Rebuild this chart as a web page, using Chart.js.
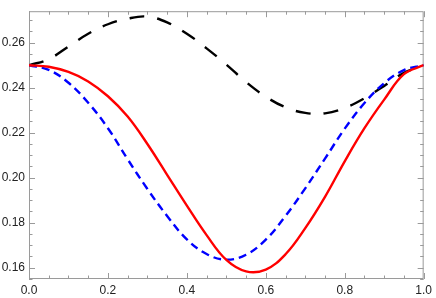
<!DOCTYPE html>
<html>
<head>
<meta charset="utf-8">
<script src="https://cdn.jsdelivr.net/npm/chart.js@4/dist/chart.umd.min.js"></script>
<style>
  html, body { margin: 0; padding: 0; background: #fff; }
  #plot { display: block; }
</style>
</head>
<body>
<canvas id="plot" width="436" height="298"></canvas>
<script>
// x positions shared by all three curves
const xs = [0, 0.05, 0.1, 0.15, 0.2, 0.25, 0.3, 0.35, 0.4, 0.45, 0.5,
            0.55, 0.6, 0.65, 0.7, 0.75, 0.8, 0.85, 0.9, 0.95, 1.0];

// solid red curve
const redVals = [0.250, 0.2493, 0.2470, 0.2428, 0.2362, 0.2272, 0.2150, 0.2013, 0.1876, 0.1745, 0.1635,
                 0.1584, 0.1592, 0.1660, 0.1776, 0.1915, 0.2073, 0.2220, 0.2347, 0.2460, 0.250];

// short-dashed blue curve
const blueVals = [0.250, 0.2479, 0.2422, 0.2333, 0.2220, 0.2082, 0.1950, 0.1830, 0.1726, 0.1661, 0.1636,
                  0.1658, 0.1725, 0.1830, 0.1953, 0.2085, 0.2218, 0.2332, 0.2420, 0.2478, 0.250];

// long-dashed black curve
const blackVals = [0.250, 0.2527, 0.2583, 0.2640, 0.2682, 0.2707, 0.2716, 0.2690, 0.2640, 0.2575, 0.2503,
                   0.2425, 0.2360, 0.2313, 0.2288, 0.2286, 0.2310, 0.2353, 0.2408, 0.2466, 0.250];

const xTicks = [0, 0.2, 0.4, 0.6, 0.8, 1.0];
const yTicks = [0.16, 0.18, 0.20, 0.22, 0.24, 0.26];

function pairs(vals) {
    return xs.map((x, i) => ({ x: x, y: vals[i] }));
}

// Mathematica-like frame with inward ticks on all four sides
const framePlugin = {
    id: "frame",
    beforeDatasetsDraw(chart) {
        const ctx = chart.ctx;
        const a = chart.chartArea;
        const xs_ = chart.scales.x;
        const ys_ = chart.scales.y;
        ctx.save();
        ctx.strokeStyle = "#9a9a9a";
        ctx.lineWidth = 1;
        ctx.strokeRect(a.left + 0.5, a.top + 0.5, a.right - a.left - 1, a.bottom - a.top - 1);

        ctx.beginPath();
        // x ticks, every 0.05, major every 0.2
        for (let i = 0; i <= 20; i++) {
            const v = i * 0.05;
            const px = Math.round(xs_.getPixelForValue(v)) + 0.5;
            const len = (i % 4 === 0) ? 6 : 3.5;
            ctx.moveTo(px, a.bottom);
            ctx.lineTo(px, a.bottom - len);
            ctx.moveTo(px, a.top);
            ctx.lineTo(px, a.top + len);
        }
        // y ticks, every 0.005, major every 0.02
        for (let i = 0; i <= 24; i++) {
            const v = 0.155 + i * 0.005;
            if (v > ys_.max) break;
            const py = Math.round(ys_.getPixelForValue(v)) + 0.5;
            const major = Math.abs(((v - 0.16) / 0.02) - Math.round((v - 0.16) / 0.02)) < 1e-6;
            const len = major ? 6 : 3.5;
            ctx.moveTo(a.left, py);
            ctx.lineTo(a.left + len, py);
            ctx.moveTo(a.right, py);
            ctx.lineTo(a.right - len, py);
        }
        ctx.stroke();
        ctx.restore();
    },
};

const ctx = document.getElementById("plot").getContext("2d");

new Chart(ctx, {
    type: "scatter",
    data: {
        datasets: [
            {
                label: "red",
                data: pairs(redVals),
                showLine: true,
                borderColor: "#ff0000",
                borderWidth: 2.4,
                pointRadius: 0,
                tension: 0.4,
            },
            {
                label: "blue",
                data: pairs(blueVals),
                showLine: true,
                borderColor: "#0000ff",
                borderWidth: 2.4,
                borderDash: [8, 5],
                pointRadius: 0,
                tension: 0.4,
            },
            {
                label: "black",
                data: pairs(blackVals),
                showLine: true,
                borderColor: "#000000",
                borderWidth: 2.4,
                borderDash: [15, 13],
                pointRadius: 0,
                tension: 0.4,
            },
        ],
    },
    options: {
        responsive: false,
        animation: false,
        devicePixelRatio: 1,
        layout: { padding: { top: 2, right: 12, left: 0, bottom: 0 } },
        plugins: {
            legend: { display: false },
            tooltip: { enabled: false },
        },
        scales: {
            x: {
                type: "linear",
                min: 0,
                max: 1,
                grid: { display: false, drawTicks: false },
                border: { display: false },
                afterBuildTicks: (scale) => {
                    scale.ticks = xTicks.map((v) => ({ value: v }));
                },
                afterFit: (scale) => {
                    scale.height = 19;
                },
                ticks: {
                    padding: 4,
                    color: "#222",
                    font: { family: "Liberation Sans", size: 12 },
                    callback: (v) => v.toFixed(1),
                },
            },
            y: {
                type: "linear",
                min: 0.155,
                max: 0.274,
                grid: { display: false, drawTicks: false },
                border: { display: false },
                afterBuildTicks: (scale) => {
                    scale.ticks = yTicks.map((v) => ({ value: v }));
                },
                afterFit: (scale) => {
                    scale.width = 29;
                },
                ticks: {
                    padding: 4,
                    color: "#222",
                    font: { family: "Liberation Sans", size: 12 },
                    callback: (v) => v.toFixed(2),
                },
            },
        },
    },
    plugins: [framePlugin],
});
</script>
</body>
</html>
